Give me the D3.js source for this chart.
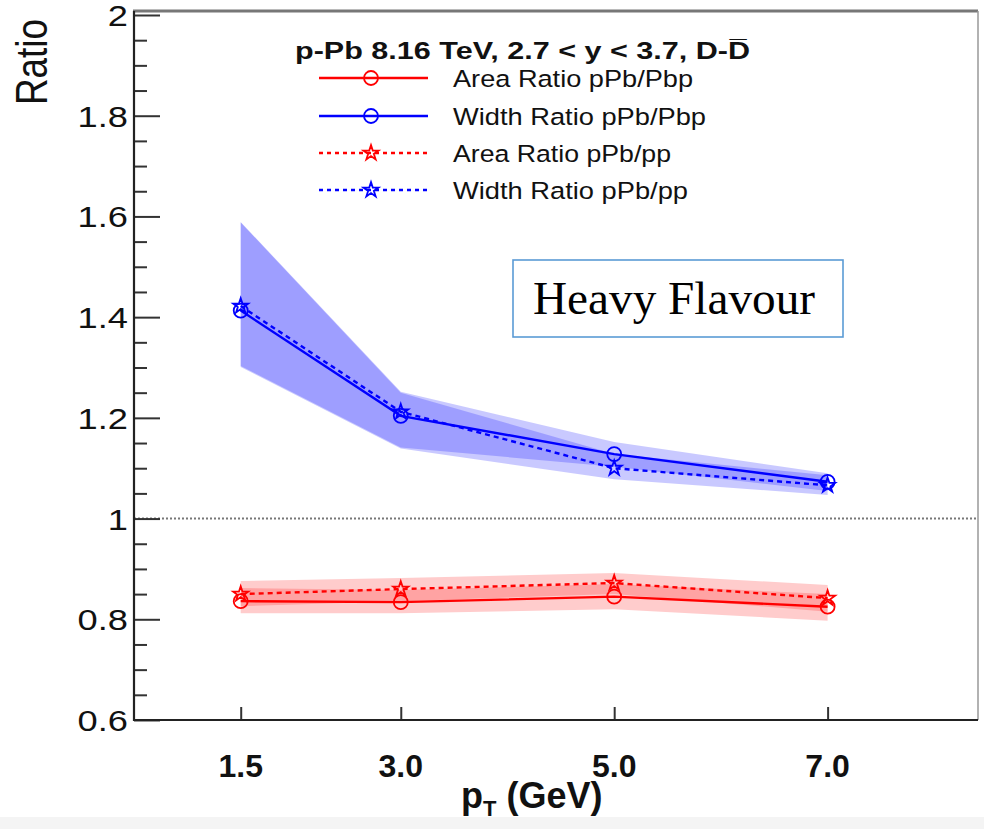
<!DOCTYPE html>
<html>
<head>
<meta charset="utf-8">
<script src="https://cdn.jsdelivr.net/npm/d3@7"></script>
<style>
  html, body { margin: 0; padding: 0; background: #fff; }
  svg { display: block; }
</style>
</head>
<body>
<svg id="chart" width="984" height="829"></svg>
<script>
// ---------------- data ----------------
const pT = [1.5, 3.0, 5.0, 7.0];
const xTickLabels = ["1.5", "3.0", "5.0", "7.0"];
const yMajorTicks = [0.6, 0.8, 1.0, 1.2, 1.4, 1.6, 1.8, 2.0];
const yTickLabels = ["0.6", "0.8", "1", "1.2", "1.4", "1.6", "1.8", "2"];

const areaPbp      = [0.836, 0.834, 0.845, 0.825];
const areaPbpLow   = [0.812, 0.812, 0.820, 0.797];
const areaPbpHigh  = [0.862, 0.858, 0.870, 0.850];

const widthPbp     = [1.413, 1.204, 1.128, 1.073];
const widthPbpLow  = [1.303, 1.141, 1.103, 1.055];
const widthPbpHigh = [1.589, 1.252, 1.152, 1.090];

const areaPp       = [0.850, 0.860, 0.872, 0.842];
const areaPpLow    = [0.826, 0.836, 0.850, 0.815];
const areaPpHigh   = [0.876, 0.882, 0.892, 0.868];

const widthPp      = [1.422, 1.212, 1.100, 1.066];
const widthPpLow   = [1.301, 1.139, 1.078, 1.047];
const widthPpHigh  = [1.588, 1.250, 1.128, 1.086];

const legendLabels = ["Area Ratio pPb/Pbp", "Width Ratio pPb/Pbp", "Area Ratio pPb/pp", "Width Ratio pPb/pp"];
const titleText = "p-Pb 8.16 TeV, 2.7 < y < 3.7, D-D\u0305";

// ---------------- layout ----------------
const svg = d3.select("#chart");
const L = 134, R = 978, T = 11, B = 720;
const x = d3.scaleLinear().domain([0.5, 8.4]).range([L, 977]);
const y = d3.scaleLinear().domain([0.6, 2.0]).range([B, 15]);

const RED = "#ff0000", BLUE = "#0000ff";
const font = "Liberation Sans, Arial, Helvetica, sans-serif";

// bottom grey strip
svg.append("rect").attr("x", 0).attr("y", 817).attr("width", 984).attr("height", 12).attr("fill", "#f4f4f4");

// ---------------- bands ----------------
function band(vals, lo, hi) {
  return pT.map((p, i) => ({ x: p, lo: lo[i], hi: hi[i] }));
}
const area = d3.area().x(d => x(d.x)).y0(d => y(d.lo)).y1(d => y(d.hi));
const bands = [
  { d: band(widthPbp, widthPbpLow, widthPbpHigh), c: BLUE, o: 0.21 },
  { d: band(widthPp, widthPpLow, widthPpHigh), c: BLUE, o: 0.21 },
  { d: band(areaPbp, areaPbpLow, areaPbpHigh), c: RED, o: 0.2 },
  { d: band(areaPp, areaPpLow, areaPpHigh), c: RED, o: 0.2 }
];
bands.forEach(b => {
  svg.append("path").attr("d", area(b.d)).attr("fill", b.c).attr("fill-opacity", b.o).attr("stroke", "none");
});

// reference line at 1
svg.append("line").attr("x1", L).attr("x2", R).attr("y1", y(1)).attr("y2", y(1))
  .attr("stroke", "#777").attr("stroke-width", 2).attr("stroke-dasharray", "2,2");

// ---------------- series ----------------
const line = d3.line().x(d => x(d[0])).y(d => y(d[1]));
const series = [
  { v: areaPbp, c: RED, dash: null, m: "circle" },
  { v: widthPbp, c: BLUE, dash: null, m: "circle" },
  { v: areaPp, c: RED, dash: "5,4", m: "star" },
  { v: widthPp, c: BLUE, dash: "5,4", m: "star" }
];
const starPath = d3.symbol().type(d3.symbolStar).size(70)();
function marker(g, type, cx, cy, c) {
  if (type === "circle") {
    g.append("circle").attr("cx", cx).attr("cy", cy).attr("r", 7)
      .attr("fill", "none").attr("stroke", c).attr("stroke-width", 1.8);
  } else {
    g.append("path").attr("d", starPath).attr("transform", `translate(${cx},${cy})`)
      .attr("fill", "none").attr("stroke", c).attr("stroke-width", 1.8);
  }
}
series.forEach(s => {
  const pts = pT.map((p, i) => [p, s.v[i]]);
  svg.append("path").attr("d", line(pts)).attr("fill", "none").attr("stroke", s.c)
    .attr("stroke-width", 2.4).attr("stroke-dasharray", s.dash);
});
series.forEach(s => {
  const g = svg.append("g");
  pT.forEach((p, i) => marker(g, s.m, x(p), y(s.v[i]), s.c));
});

// ---------------- axes ----------------
const yMinor = d3.range(0.6, 2.0001, 0.05).filter(v => yMajorTicks.every(m => Math.abs(m - v) > 1e-6));
const yMajAxis = d3.axisLeft(y).tickValues(yMajorTicks).tickSize(-26).tickFormat("");
const yMinAxis = d3.axisLeft(y).tickValues(yMinor).tickSize(-13).tickFormat("");
[yMajAxis, yMinAxis].forEach(a => {
  const g = svg.append("g").attr("transform", `translate(${L},0)`).call(a);
  g.select(".domain").remove();
  g.selectAll("line").attr("stroke", "#333").attr("stroke-width", 2);
});
svg.append("g").selectAll("text").data(yMajorTicks).join("text")
  .attr("transform", d => `translate(128,${y(d) + 11}) scale(1.25,1)`)
  .attr("text-anchor", "end").attr("font-family", font).attr("font-size", 29)
  .attr("fill", "#111")
  .text((d, i) => yTickLabels[i]);

const xAxis = d3.axisBottom(x).tickValues(pT).tickSize(-13).tickFormat("");
const xg = svg.append("g").attr("transform", `translate(0,${B})`).call(xAxis);
xg.select(".domain").remove();
xg.selectAll("line").attr("stroke", "#333").attr("stroke-width", 2);
svg.append("g").selectAll("text").data(pT).join("text")
  .attr("x", d => x(d)).attr("y", 777).attr("text-anchor", "middle")
  .attr("font-family", font).attr("font-size", 32).attr("font-weight", "bold").attr("fill", "#111")
  .text((d, i) => xTickLabels[i]);

// frame
svg.append("line").attr("x1", L - 1).attr("x2", R).attr("y1", T).attr("y2", T).attr("stroke", "#777").attr("stroke-width", 3);
svg.append("line").attr("x1", R).attr("x2", R).attr("y1", T).attr("y2", B).attr("stroke", "#999").attr("stroke-width", 1.5);
svg.append("line").attr("x1", L).attr("x2", L).attr("y1", T).attr("y2", B + 1).attr("stroke", "#222").attr("stroke-width", 2.2);
svg.append("line").attr("x1", L - 1).attr("x2", R).attr("y1", B).attr("y2", B).attr("stroke", "#222").attr("stroke-width", 2.2);

// axis titles
svg.append("text").attr("transform", "translate(47,105) rotate(-90)")
  .attr("font-family", font).attr("font-size", 44).attr("fill", "#111")
  .attr("textLength", 86).attr("lengthAdjust", "spacingAndGlyphs")
  .text("Ratio");

const xt = svg.append("text").attr("x", 461).attr("y", 808)
  .attr("font-family", font).attr("font-size", 36).attr("font-weight", "bold").attr("fill", "#111");
xt.append("tspan").text("p");
xt.append("tspan").attr("font-size", 22).attr("dy", 8).text("T");
xt.append("tspan").attr("dy", -8).text(" (GeV)");

// ---------------- legend ----------------
svg.append("text").attr("x", 295).attr("y", 59)
  .attr("font-family", font).attr("font-size", 24).attr("font-weight", "bold").attr("fill", "#111")
  .attr("textLength", 455).attr("lengthAdjust", "spacingAndGlyphs")
  .text(titleText);

const legY = [78, 116, 153, 190];
const legW = [240, 253, 218, 235];
series.forEach((s, i) => {
  const g = svg.append("g");
  g.append("line").attr("x1", 319).attr("x2", 428).attr("y1", legY[i]).attr("y2", legY[i])
    .attr("stroke", s.c).attr("stroke-width", 2.4).attr("stroke-dasharray", s.dash ? "4,4" : null);
  marker(g, s.m, 371, legY[i], s.c);
  g.append("text").attr("x", 453).attr("y", legY[i] + 9)
    .attr("font-family", font).attr("font-size", 24.5).attr("fill", "#111")
    .attr("textLength", legW[i]).attr("lengthAdjust", "spacingAndGlyphs")
    .text(legendLabels[i]);
});

// ---------------- annotation box ----------------
svg.append("rect").attr("x", 513).attr("y", 260).attr("width", 330).attr("height", 77)
  .attr("fill", "#fff").attr("stroke", "#5b9bd5").attr("stroke-width", 1.6);
svg.append("text").attr("x", 533).attr("y", 314)
  .attr("font-family", "Liberation Serif, Times New Roman, serif").attr("font-size", 47).attr("fill", "#000")
  .attr("textLength", 282).attr("lengthAdjust", "spacingAndGlyphs")
  .text("Heavy Flavour");
</script>
</body>
</html>
